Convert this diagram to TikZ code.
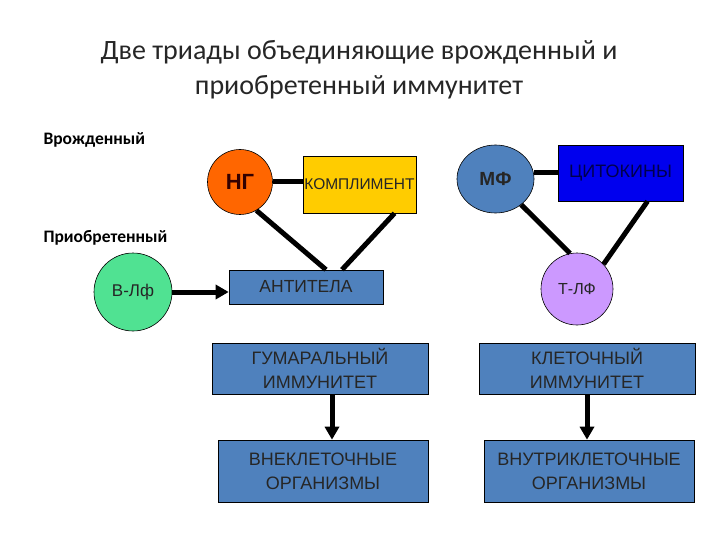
\documentclass[tikz,border=0pt]{standalone}
\usepackage{fontspec}
\setmainfont{Liberation Sans}
\newfontfamily\calfont{Carlito}
\usepackage{xcolor}
\usetikzlibrary{arrows.meta, positioning, shapes.geometric}

\definecolor{ngorange}{RGB}{255,102,0}
\definecolor{kompyellow}{RGB}{255,204,0}
\definecolor{steel}{RGB}{79,129,189}
\definecolor{bgreen}{RGB}{80,226,146}
\definecolor{cytblue}{RGB}{0,0,238}
\definecolor{tviolet}{RGB}{204,153,255}

\begin{document}
\begin{tikzpicture}[
    x=1pt, y=-1pt,
    box/.style={rectangle, draw=black, line width=0.6pt, inner sep=0pt, text centered, fill=steel, text=black!85, font=\fontsize{18}{24}\selectfont},
    cell/.style={circle, draw=black, line width=0.6pt, inner sep=0pt, text=black!85, font=\fontsize{17}{20}\selectfont},
    side/.style={anchor=west, font=\calfont\bfseries\fontsize{17.5}{20}\selectfont},
    link/.style={line width=5pt},
    arrow/.style={-{Triangle[length=13pt, width=14pt]}, line width=5pt}
]
\useasboundingbox (0,0) rectangle (720,540);

\node[align=center, text=black!85, font=\calfont\fontsize{28}{35}\selectfont] (title) at (359,70) {Две триады объединяющие врожденный и\\приобретенный иммунитет};

\node[side] (innate) at (40,140) {Врожденный};
\node[side] (acquired) at (40,238) {Приобретенный};

% innate triad
\node[cell, fill=ngorange, minimum size=65pt, font=\bfseries\fontsize{22}{24}\selectfont, text=black!80!red] (ng) at (240,182) {НГ};
\node[box, fill=kompyellow, minimum width=113pt, minimum height=57pt, font=\fontsize{15.5}{18}\selectfont] (komp) at (359.5,184.5) {\raisebox{-3pt}{КОМПЛИМЕНТ}};
\node[box, minimum width=154pt, minimum height=34pt, font=\fontsize{17.5}{20}\selectfont] (antitela) at (306,287) {АНТИТЕЛА};
\node[cell, fill=bgreen, minimum size=78pt] (blf) at (133,292) {В-Лф};

\node[ellipse, draw=black, line width=0.6pt, fill=steel, minimum width=77pt, minimum height=68pt, inner sep=0pt, text=black!85, font=\bfseries\fontsize{19}{20}\selectfont] (mf) at (495.5,179) {МФ};
\node[box, fill=cytblue, minimum width=125pt, minimum height=56pt, font=\fontsize{18}{20}\selectfont, text=blue!30!black] (cyt) at (620.5,173) {ЦИТОКИНЫ};
\node[cell, fill=tviolet, minimum size=72pt, font=\fontsize{16}{20}\selectfont] (tlf) at (577,289) {Т-ЛФ};

% immunity boxes
\node[box, minimum width=216pt, minimum height=51pt, align=center] (gum) at (320,368.5) {ГУМАРАЛЬНЫЙ\\ИММУНИТЕТ};
\node[box, minimum width=216pt, minimum height=51pt, align=center] (kle) at (587,368.5) {КЛЕТОЧНЫЙ\\ИММУНИТЕТ};
\node[box, minimum width=210pt, minimum height=62pt, align=center] (vnek) at (323,471) {ВНЕКЛЕТОЧНЫЕ\\ОРГАНИЗМЫ};
\node[box, minimum width=210pt, minimum height=62pt, align=center] (vnut) at (589,471) {ВНУТРИКЛЕТОЧНЫЕ\\ОРГАНИЗМЫ};

% connectors
\draw[link] (ng.east) -- (ng.east -| komp.west);
\draw[link] (ng.-60) -- ([xshift=20pt]antitela.north);
\draw[link] ([xshift=35pt]komp.south) -- ([xshift=36pt]antitela.north);
\draw[arrow] (blf.east) -- (blf.east -| antitela.west);

\draw[link] (cyt.west -| mf.east) -- (cyt.west);
\draw[link] (mf.-45) -- (tlf.101);
\draw[link] ([xshift=27pt]cyt.south) -- (tlf.43);

\draw[arrow] ([xshift=12pt]gum.south) -- ([xshift=12pt]gum.south |- vnek.north);
\draw[arrow] (kle.south) -- (kle.south |- vnut.north);

\end{tikzpicture}
\end{document}
